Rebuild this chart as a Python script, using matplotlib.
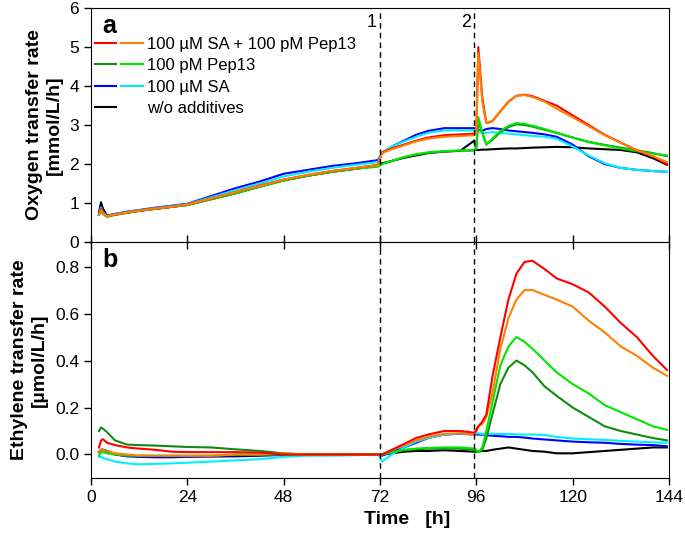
import numpy as np
import matplotlib.pyplot as plt
from matplotlib.lines import Line2D
from matplotlib.legend_handler import HandlerTuple

plt.rcParams['font.family'] = ['Liberation Sans', 'DejaVu Sans']

# time grid [h]
t = [2, 2.5, 3, 4, 6, 9, 12, 16, 20, 24, 30, 36, 42, 48, 54, 60, 66, 71.5,
     72.5, 75, 78, 81, 84, 88, 92, 95.5, 96, 96.5, 97.5, 98.5, 100, 102, 104,
     106, 108, 110, 113, 116, 120, 124, 128, 132, 136, 140, 143.5]

# oxygen transfer rate [mmol/L/h]
otr_red = [0.7, 0.85, 0.75, 0.66, 0.7, 0.76, 0.8, 0.86, 0.9, 0.96, 1.12, 1.28, 1.45, 1.6, 1.72, 1.82, 1.9, 1.98,
           2.3, 2.4, 2.5, 2.6, 2.68, 2.74, 2.76, 2.78, 2.8, 5.0, 3.7, 3.05, 3.1, 3.35, 3.6, 3.75, 3.78, 3.74,
           3.62, 3.5, 3.25, 3.0, 2.75, 2.55, 2.35, 2.2, 2.0]
otr_orange = [0.7, 0.82, 0.74, 0.66, 0.7, 0.76, 0.8, 0.86, 0.9, 0.96, 1.12, 1.28, 1.44, 1.6, 1.72, 1.82, 1.9, 1.97,
              2.28, 2.38, 2.48, 2.58, 2.65, 2.7, 2.72, 2.74, 2.8, 4.85, 3.6, 3.05, 3.1, 3.35, 3.6, 3.75, 3.77, 3.72,
              3.6, 3.42, 3.2, 2.97, 2.74, 2.54, 2.36, 2.2, 2.05]
otr_dkgreen = [0.7, 0.8, 0.72, 0.65, 0.7, 0.75, 0.8, 0.85, 0.9, 0.95, 1.1, 1.25, 1.42, 1.58, 1.7, 1.8, 1.88, 1.95,
               2.0, 2.08, 2.17, 2.24, 2.29, 2.32, 2.34, 2.35, 2.4, 3.1, 2.8, 2.5, 2.62, 2.82, 2.95, 3.02, 3.0, 2.96,
               2.88, 2.8, 2.68, 2.57, 2.49, 2.42, 2.35, 2.28, 2.2]
otr_green = [0.7, 0.8, 0.72, 0.65, 0.7, 0.75, 0.8, 0.85, 0.9, 0.95, 1.1, 1.25, 1.42, 1.58, 1.7, 1.8, 1.88, 1.93,
             2.0, 2.08, 2.18, 2.25, 2.3, 2.33, 2.35, 2.35, 2.4, 3.2, 2.8, 2.5, 2.65, 2.85, 2.98, 3.05, 3.03, 2.98,
             2.9, 2.8, 2.68, 2.56, 2.48, 2.4, 2.33, 2.27, 2.22]
otr_blue = [0.7, 0.9, 0.78, 0.68, 0.72, 0.78, 0.82, 0.88, 0.93, 0.98, 1.18, 1.38, 1.55, 1.75, 1.85, 1.95, 2.02, 2.1,
            2.28, 2.45, 2.6, 2.75, 2.85, 2.92, 2.92, 2.92, 2.9, 2.88, 2.85, 2.9, 2.92, 2.9, 2.86, 2.84, 2.82, 2.8,
            2.76, 2.7, 2.5, 2.2, 2.0, 1.9, 1.85, 1.82, 1.8]
otr_cyan = [0.7, 0.88, 0.76, 0.67, 0.71, 0.77, 0.81, 0.87, 0.92, 0.97, 1.15, 1.33, 1.5, 1.68, 1.8, 1.9, 1.98, 2.05,
            2.3, 2.45, 2.58, 2.7, 2.8, 2.86, 2.86, 2.86, 2.85, 2.85, 2.8, 2.8, 2.82, 2.8, 2.78, 2.76, 2.74, 2.72,
            2.7, 2.65, 2.45, 2.22, 2.02, 1.9, 1.85, 1.82, 1.8]
otr_black = [0.75, 1.02, 0.85, 0.68, 0.7, 0.75, 0.8, 0.85, 0.9, 0.95, 1.1, 1.25, 1.42, 1.58, 1.7, 1.8, 1.88, 1.96,
             2.02, 2.08, 2.16, 2.22, 2.28, 2.32, 2.34, 2.6, 2.36, 2.36, 2.37, 2.37, 2.38, 2.39, 2.4, 2.4, 2.41, 2.42,
             2.43, 2.44, 2.43, 2.4, 2.38, 2.36, 2.3, 2.15, 1.98]

# ethylene transfer rate [umol/L/h]
etr_red = [0.03, 0.06, 0.065, 0.05, 0.04, 0.03, 0.025, 0.02, 0.012, 0.01, 0.01, 0.01, 0.008, 0.0, 0.0, 0.0, 0.0, 0.0,
           0.0, 0.02, 0.045, 0.07, 0.085, 0.1, 0.1, 0.093, 0.1, 0.12, 0.14, 0.17, 0.33, 0.5, 0.66, 0.77, 0.82, 0.825,
           0.79, 0.75, 0.725, 0.69, 0.63, 0.56, 0.5, 0.42, 0.36]
etr_orange = [0.01, 0.02, 0.02, 0.015, 0.005, 0.0, -0.005, -0.005, -0.005, -0.005, -0.005, 0.0, 0.0, 0.005, 0.0, 0.0,
              0.0, 0.0, 0.0, 0.02, 0.04, 0.06, 0.075, 0.088, 0.09, 0.085, 0.11, 0.12, 0.13, 0.16, 0.26, 0.45, 0.58,
              0.66, 0.7, 0.7, 0.68, 0.66, 0.63, 0.57, 0.52, 0.46, 0.42, 0.37, 0.335]
etr_dkgreen = [0.1, 0.115, 0.11, 0.095, 0.06, 0.042, 0.04, 0.038, 0.035, 0.032, 0.03, 0.022, 0.015, 0.005, 0.0, 0.0,
               0.0, 0.0, 0.0, 0.01, 0.018, 0.022, 0.025, 0.025, 0.025, 0.02, 0.015, 0.01, 0.02, 0.07, 0.17, 0.3, 0.37,
               0.4, 0.38, 0.35, 0.29, 0.25, 0.2, 0.16, 0.12, 0.1, 0.085, 0.07, 0.06]
etr_green = [-0.005, 0.01, 0.01, 0.005, 0.0, -0.005, -0.005, -0.005, -0.005, -0.005, -0.005, 0.0, 0.0, 0.0, 0.0, 0.0,
             0.0, 0.0, 0.0, 0.01, 0.02, 0.025, 0.028, 0.03, 0.03, 0.025, 0.02, 0.01, 0.03, 0.1, 0.22, 0.38, 0.46,
             0.5, 0.48, 0.45, 0.4, 0.35, 0.3, 0.26, 0.21, 0.18, 0.15, 0.12, 0.105]
etr_blue = [0.01, 0.02, 0.02, 0.015, 0.0, -0.008, -0.01, -0.012, -0.012, -0.01, -0.008, -0.005, -0.003, 0.0, 0.0, 0.0,
            0.0, 0.0, -0.005, 0.01, 0.03, 0.05, 0.07, 0.085, 0.088, 0.085, 0.085, 0.085, 0.085, 0.082, 0.08, 0.078,
            0.075, 0.075, 0.072, 0.068, 0.064, 0.06, 0.055, 0.052, 0.05, 0.045, 0.042, 0.04, 0.035]
etr_cyan = [-0.01, -0.01, -0.015, -0.02, -0.03, -0.038, -0.042, -0.04, -0.038, -0.035, -0.03, -0.025, -0.02, -0.01,
            -0.005, -0.005, -0.003, 0.0, -0.03, 0.0, 0.03, 0.055, 0.07, 0.085, 0.09, 0.09, 0.09, 0.09, 0.088, 0.088,
            0.088, 0.087, 0.087, 0.086, 0.085, 0.085, 0.083, 0.075, 0.068, 0.065, 0.062, 0.058, 0.055, 0.052, 0.05]
etr_black = [0.01, 0.02, 0.02, 0.015, 0.0, -0.005, -0.008, -0.008, -0.008, -0.008, -0.008, -0.008, -0.005, -0.002,
             0.0, 0.0, 0.0, 0.0, 0.0, 0.005, 0.012, 0.015, 0.015, 0.018, 0.015, 0.012, 0.012, 0.013, 0.015, 0.015,
             0.02, 0.025, 0.03, 0.025, 0.02, 0.015, 0.012, 0.005, 0.005, 0.01, 0.015, 0.02, 0.025, 0.03, 0.03]

c_red, c_orange = '#ff0000', '#ff8000'
c_dkgreen, c_green = '#118a11', '#00e600'
c_blue, c_cyan = '#0000ff', '#00f0ff'

labels = ['100 \u00b5M SA + 100 pM Pep13', '100 pM Pep13', '100 \u00b5M SA', 'w/o additives']
events = [72, 95.5]

fig = plt.figure(figsize=(6.85, 5.41), dpi=100)
ax1 = fig.add_axes([0.1328, 0.5527, 0.8438, 0.4323])
ax2 = fig.add_axes([0.1328, 0.1165, 0.8438, 0.4362])

lw = 1.5
otr = [(otr_black, 'k'), (otr_blue, c_blue), (otr_cyan, c_cyan), (otr_dkgreen, c_dkgreen),
       (otr_green, c_green), (otr_red, c_red), (otr_orange, c_orange)]
for y, c in otr:
    ax1.plot(t, y, color=c, lw=lw)

etr = [(etr_black, 'k'), (etr_blue, c_blue), (etr_cyan, c_cyan), (etr_dkgreen, c_dkgreen),
       (etr_green, c_green), (etr_orange, c_orange), (etr_red, c_red)]
for y, c in etr:
    ax2.plot(t, y, color=c, lw=lw)

for ax in (ax1, ax2):
    ax.set_xlim(0, 144)
    ax.set_xticks(range(0, 145, 24))
    for e in events:
        ax.axvline(e, color='k', ls=(0, (4, 3)), lw=1)
    ax.tick_params(labelsize=12.5, width=1, length=5)

ax1.set_ylim(0, 6)
ax1.set_yticks(range(0, 7))
ax1.tick_params(axis='x', direction='in', labelbottom=False)
ax1.tick_params(axis='y', direction='out')
ax1.set_ylabel('Oxygen transfer rate\n[mmol/L/h]', fontsize=14, fontweight='bold', labelpad=5)

ax2.set_ylim(-0.1, 0.905)
ax2.set_yticks([0.0, 0.2, 0.4, 0.6, 0.8])
ax2.set_yticklabels(['0.0', '0.2', '0.4', '0.6', '0.8'])
ax2.tick_params(axis='x', direction='out', top=True)
ax2.set_ylabel('Ethylene transfer rate\n[\u00b5mol/L/h]', fontsize=14, fontweight='bold', labelpad=5)
ax2.set_xlabel('Time   [h]', fontsize=14, fontweight='bold')
ax2.xaxis.set_label_coords(0.547, -0.14)
# top ticks of panel b point down into it
for tk in ax2.xaxis.get_major_ticks():
    tk.tick2line.set_marker(3)
    tk.tick2line.set_markersize(5)

ax1.text(0.02, 0.975, 'a', transform=ax1.transAxes, fontsize=18, fontweight='bold', va='top')
ax2.text(0.02, 0.975, 'b', transform=ax2.transAxes, fontsize=18, fontweight='bold', va='top')
ax1.text(events[0] - 0.8, 5.85, '1', ha='right', va='top', fontsize=13)
ax1.text(events[1] - 0.8, 5.85, '2', ha='right', va='top', fontsize=13)

blank = Line2D([], [], color='none')
handles = [
    (Line2D([], [], color=c_red, lw=lw), Line2D([], [], color=c_orange, lw=lw)),
    (Line2D([], [], color=c_dkgreen, lw=lw), Line2D([], [], color=c_green, lw=lw)),
    (Line2D([], [], color=c_blue, lw=lw), Line2D([], [], color=c_cyan, lw=lw)),
    (Line2D([], [], color='k', lw=lw), blank),
]
ax1.legend(handles, labels, handler_map={tuple: HandlerTuple(ndivide=None, pad=0.3)},
           loc='upper left', bbox_to_anchor=(-0.005, 0.905), frameon=False, fontsize=12,
           handlelength=2.9, handletextpad=0.25, labelspacing=0.38, borderaxespad=0)

fig.savefig('out.png', dpi=100)
